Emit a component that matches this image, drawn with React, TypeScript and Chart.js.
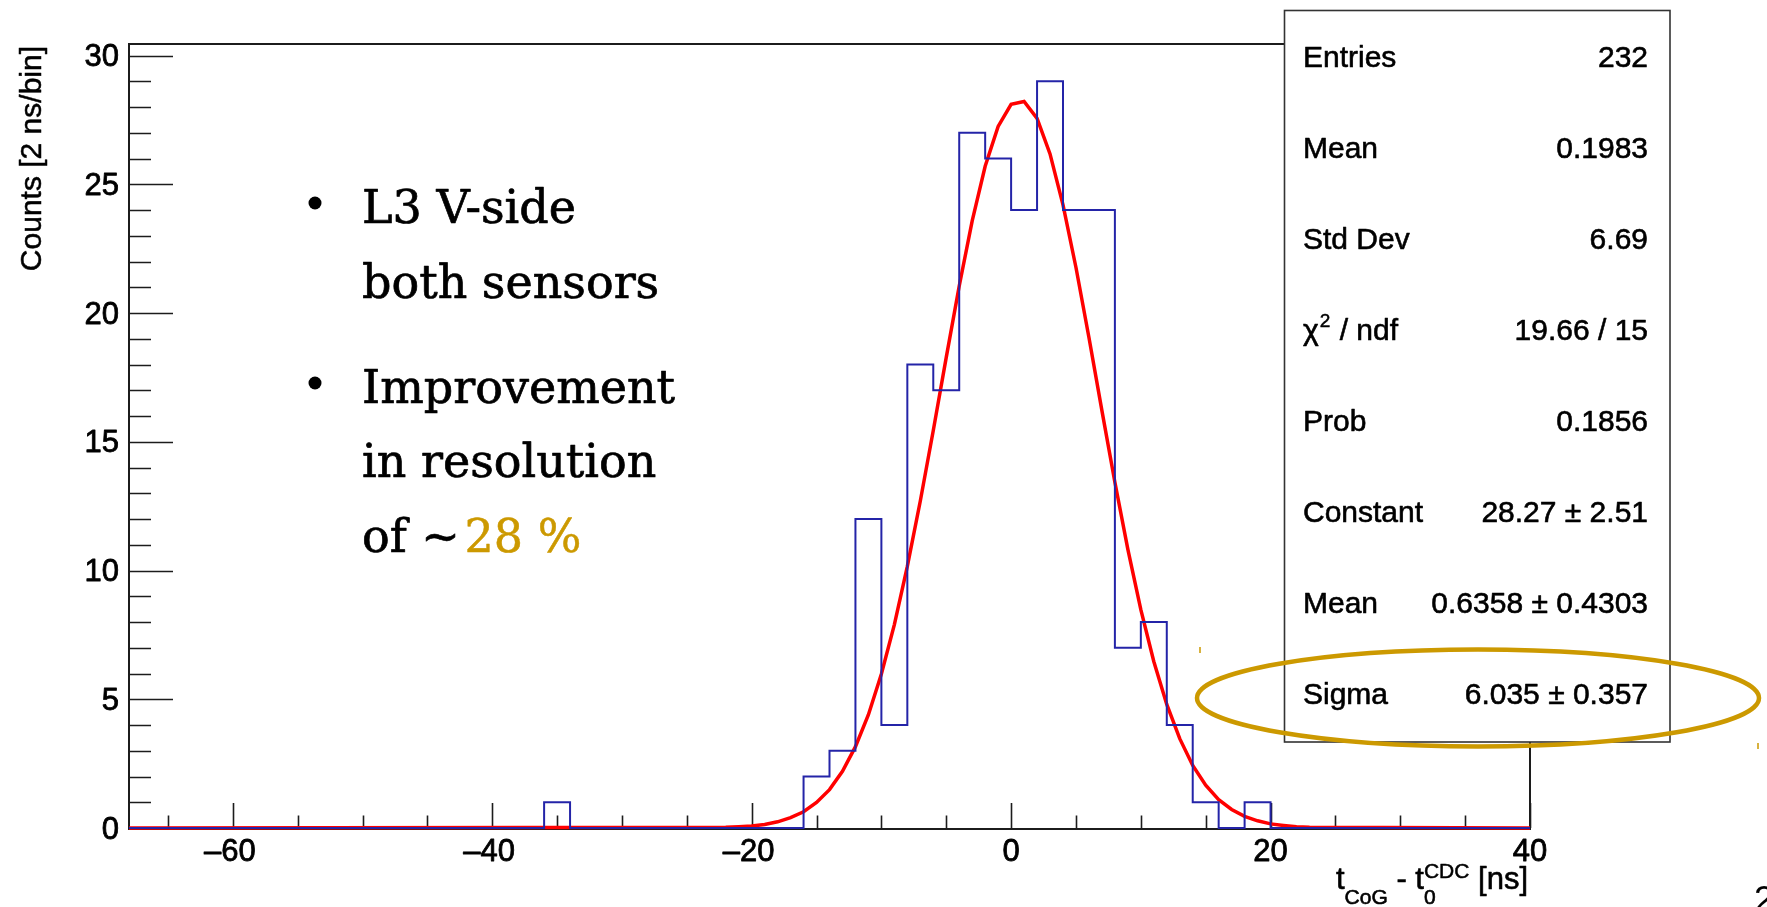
import { useEffect, useRef } from "react";
import { Chart, registerables } from "chart.js";

Chart.register(...registerables);

// ---- data ----
const X_MIN = -68;
const X_MAX = 40;
const Y_MIN = 0;
const Y_MAX = 30.45;
const BIN_WIDTH = 2;
// 54 bins of 2 ns from -68 to 40
const COUNTS = [
  0, 0, 0, 0, 0, 0, 0, 0, 0, 0, 0, 0, 0, 0, 0, 0,
  1,
  0, 0, 0, 0, 0, 0, 0, 0, 0,
  2, 3, 12, 4, 18, 17, 27, 26, 24, 29, 24, 24, 7, 8, 4, 1, 0, 1,
  0, 0, 0, 0, 0, 0, 0, 0, 0, 0,
];
// Gaussian fit curve
const FIT_X = [
  -68, -22, -21, -20, -19, -18, -17, -16, -15, -14, -13, -12, -11, -10, -9, -8, -7, -6, -5, -4, -3, -2, -1,
  0, 1, 2, 3, 4, 5, 6, 7, 8, 9, 10, 11, 12, 13, 14, 15, 16, 17, 18, 19, 20, 21, 22, 23, 40,
];
const FIT_Y = [
  0, 0.03, 0.05, 0.08, 0.14, 0.24, 0.4, 0.63, 0.99, 1.49, 2.2, 3.16, 4.4, 5.98, 7.9, 10.16, 12.7, 15.44, 18.28, 21.05, 23.58, 25.7, 27.25,
  28.11, 28.22, 27.56, 26.18, 24.2, 21.77, 19.05, 16.21, 13.43, 10.82, 8.48, 6.47, 4.8, 3.47, 2.43, 1.66, 1.1, 0.72, 0.45, 0.28, 0.16, 0.1, 0.05, 0.03, 0,
];
const X_TICKS = [-60, -40, -20, 0, 20, 40];
const X_MINOR_STEP = 5;
const Y_TICKS = [0, 5, 10, 15, 20, 25, 30];
const Y_MINOR_STEP = 1;

const STATS_LABELS = ["Entries", "Mean", "Std Dev", "χ2 / ndf", "Prob", "Constant", "Mean", "Sigma"];
const STATS_VALUES = ["232", "0.1983", "6.69", "19.66 / 15", "0.1856", "28.27 ± 2.51", "0.6358 ± 0.4303", "6.035 ± 0.357"];

const Y_TITLE = "Counts [2 ns/bin]";
const BULLET_1 = ["L3 V-side", "both sensors"];
const BULLET_2 = ["Improvement", "in resolution", "of ~ "];
const HIGHLIGHT = "28 %";
const GOLD = "#cc9900";

const SANS = '"Liberation Sans", Arial, Helvetica, sans-serif';
const SERIF = '"DejaVu Serif", serif';

// fill text with a light outline to mimic the heavier look of the upscaled original
function heavyText(ctx: CanvasRenderingContext2D, t: string, x: number, y: number, weight = 0.7) {
  ctx.fillText(t, x, y);
  ctx.save();
  ctx.lineWidth = weight;
  ctx.strokeStyle = ctx.fillStyle as string;
  ctx.lineJoin = "round";
  ctx.strokeText(t, x, y);
  ctx.restore();
}

function drawXTitle(ctx: CanvasRenderingContext2D, x: number, y: number) {
  // x-axis title: t_CoG - t_0^CDC [ns], right aligned at x, baseline y
  const big = `31px ${SANS}`;
  const small = `21px ${SANS}`;
  const parts: { t: string; f: string; dy: number; stackWith?: string }[] = [
    { t: "t", f: big, dy: 0 },
    { t: "CoG", f: small, dy: 15 },
    { t: " - t", f: big, dy: 0 },
    { t: "0", f: small, dy: 15, stackWith: "CDC" },
    { t: " [ns]", f: big, dy: 0 },
  ];
  let total = 0;
  const widths: number[] = [];
  for (const p of parts) {
    ctx.font = p.f;
    let w = ctx.measureText(p.t).width;
    if (p.stackWith) w = Math.max(w, ctx.measureText(p.stackWith).width);
    widths.push(w);
    total += w;
  }
  let cx = x - total;
  ctx.textAlign = "left";
  ctx.textBaseline = "alphabetic";
  parts.forEach((p, i) => {
    ctx.font = p.f;
    heavyText(ctx, p.t, cx, y + p.dy, 0.6);
    if (p.stackWith) heavyText(ctx, p.stackWith, cx, y - 11, 0.5);
    cx += widths[i];
  });
}

const rootPlugin = {
  id: "rootStyle",
  beforeDatasetsDraw(chart: any) {
    const { ctx, chartArea: a, scales } = chart;
    const xs = scales.x;
    const ys = scales.y;
    ctx.save();
    ctx.strokeStyle = "#1c1c1c";
    ctx.lineWidth = 2;
    ctx.strokeRect(a.left, a.top, a.right - a.left, a.bottom - a.top + 1);
    ctx.lineWidth = 1.6;
    // x ticks
    ctx.beginPath();
    for (let v = X_MIN + 3; v <= X_MAX; v += X_MINOR_STEP) {
      const px = Math.round(xs.getPixelForValue(v)) + 0.5;
      const len = X_TICKS.includes(v) ? 25 : 12.5;
      ctx.moveTo(px, a.bottom);
      ctx.lineTo(px, a.bottom - len);
    }
    // y ticks
    for (let v = Y_MIN; v <= Y_MAX; v += Y_MINOR_STEP) {
      const py = Math.round(ys.getPixelForValue(v)) + 0.5;
      const len = Y_TICKS.includes(v) ? 44 : 22;
      ctx.moveTo(a.left, py);
      ctx.lineTo(a.left + len, py);
    }
    ctx.stroke();

    // tick labels
    ctx.fillStyle = "#000";
    ctx.font = `31px ${SANS}`;
    ctx.textAlign = "center";
    ctx.textBaseline = "alphabetic";
    for (const v of X_TICKS) {
      const label = v < 0 ? "\u2013" + Math.abs(v) : String(v);
      heavyText(ctx, label, xs.getPixelForValue(v) - (v < 0 ? 3 : 0), a.bottom + 33, 0.8);
    }
    ctx.textAlign = "right";
    ctx.textBaseline = "middle";
    for (const v of Y_TICKS) {
      heavyText(ctx, String(v), a.left - 10, ys.getPixelForValue(v) + 2, 0.8);
    }

    // y title
    ctx.save();
    ctx.translate(41, a.top + 2);
    ctx.rotate(-Math.PI / 2);
    ctx.font = `30px ${SANS}`;
    ctx.textAlign = "right";
    ctx.textBaseline = "alphabetic";
    heavyText(ctx, Y_TITLE, 0, 0, 0.5);
    ctx.restore();

    // x title
    drawXTitle(ctx, a.right - 2, a.bottom + 61);
    ctx.restore();
  },
  afterDraw(chart: any) {
    const { ctx } = chart;
    ctx.save();
    // stats box
    const bx = 1284.5, by = 10.5, bw = 1670 - 1284.5, bh = 742 - 10.5;
    ctx.fillStyle = "#fff";
    ctx.fillRect(bx, by, bw, bh);
    ctx.strokeStyle = "#333";
    ctx.lineWidth = 1.6;
    ctx.strokeRect(bx, by, bw, bh);
    ctx.fillStyle = "#000";
    ctx.textBaseline = "alphabetic";
    STATS_LABELS.forEach((lab, i) => {
      const yb = 67 + 91 * i;
      ctx.font = `30px ${SANS}`;
      ctx.textAlign = "left";
      if (lab.startsWith("χ2")) {
        heavyText(ctx, "χ", 1303, yb, 0.6);
        const w = ctx.measureText("χ").width;
        ctx.font = `19px ${SANS}`;
        heavyText(ctx, "2", 1303 + w + 1, yb - 13, 0.5);
        const w2 = ctx.measureText("2").width;
        ctx.font = `30px ${SANS}`;
        heavyText(ctx, lab.slice(2), 1303 + w + w2 + 2, yb, 0.6);
      } else {
        heavyText(ctx, lab, 1303, yb, 0.6);
      }
      ctx.textAlign = "right";
      heavyText(ctx, STATS_VALUES[i], 1648, yb, 0.6);
    });

    // bullets text
    ctx.font = `46px ${SERIF}`;
    ctx.textAlign = "left";
    ctx.fillStyle = "#000";
    const lines = [...BULLET_1, ...BULLET_2];
    const baselines = [223, 298, 403, 477, 552];
    lines.forEach((t, i) => heavyText(ctx, t, 362, baselines[i], 0.7));
    const w = ctx.measureText(BULLET_2[2]).width;
    ctx.fillStyle = GOLD;
    heavyText(ctx, HIGHLIGHT, 362 + w - 10, baselines[4], 0.5);
    ctx.fillStyle = "#000";
    for (const cy of [203, 383]) {
      ctx.beginPath();
      ctx.arc(315, cy, 6.5, 0, Math.PI * 2);
      ctx.fill();
    }

    // ellipse highlight
    ctx.strokeStyle = GOLD;
    ctx.lineWidth = 4.5;
    ctx.beginPath();
    ctx.ellipse(1478, 698, 281, 48.5, 0, 0, Math.PI * 2);
    ctx.stroke();
    ctx.lineWidth = 1.5;
    ctx.beginPath();
    ctx.moveTo(1200, 647);
    ctx.lineTo(1200, 653);
    ctx.moveTo(1758, 743);
    ctx.lineTo(1758, 749);
    ctx.stroke();

    // page number (cut off)
    ctx.fillStyle = "#000";
    ctx.font = `36px ${SANS}`;
    ctx.textAlign = "left";
    ctx.textBaseline = "top";
    ctx.fillText("2", 1754, 884);
    ctx.restore();
  },
};

export default function App() {
  const ref = useRef<HTMLCanvasElement | null>(null);
  useEffect(() => {
    if (!ref.current) return;
    const histData: { x: number; y: number }[] = [];
    COUNTS.forEach((c, i) => {
      const lo = X_MIN + i * BIN_WIDTH;
      histData.push({ x: lo, y: c }, { x: lo + BIN_WIDTH, y: c });
    });
    const fitData = FIT_X.map((x, i) => ({ x, y: FIT_Y[i] }));
    const chart = new Chart(ref.current, {
      type: "line",
      data: {
        datasets: [
          {
            data: histData,
            borderColor: "#2424a8",
            borderWidth: 2,
            pointRadius: 0,
            tension: 0,
            fill: false,
            clip: 4,
          },
          {
            data: fitData,
            borderColor: "#ff0000",
            borderWidth: 3.5,
            pointRadius: 0,
            tension: 0,
            fill: false,
            clip: 6,
          },
        ],
      },
      options: {
        animation: false,
        responsive: false,
        devicePixelRatio: 1,
        layout: { padding: { left: 129, right: 1767 - 1530, top: 44, bottom: 907 - 828 } },
        plugins: { legend: { display: false }, tooltip: { enabled: false } },
        scales: {
          x: { type: "linear", min: X_MIN, max: X_MAX, display: false },
          y: { type: "linear", min: Y_MIN, max: Y_MAX, display: false },
        },
      },
      plugins: [rootPlugin],
    } as any);
    return () => chart.destroy();
  }, []);
  return (
    <div style={{ position: "fixed", left: 0, top: 0, width: 1767, height: 907, background: "#fff" }}>
      <canvas ref={ref} width={1767} height={907} style={{ display: "block" }} />
    </div>
  );
}
